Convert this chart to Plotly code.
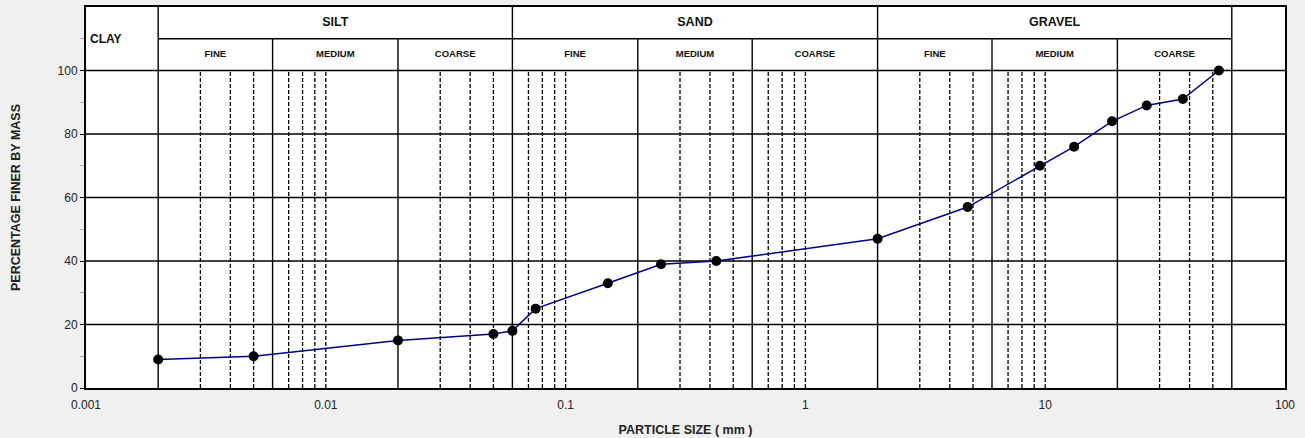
import numpy as np
import plotly.graph_objects as go

# ---- data ----
particle_size = [0.002, 0.005, 0.02, 0.05, 0.06, 0.075, 0.15, 0.25, 0.425, 2.0,
                 4.75, 9.5, 13.2, 19.0, 26.5, 37.5, 53.0]
percent_finer = [9, 10, 15, 17, 18, 25, 33, 39, 40, 47, 57, 70, 76, 84, 89, 91, 100]

main_bounds = [0.002, 0.06, 2, 60]
main_labels = ["SILT", "SAND", "GRAVEL"]
sub_bounds = [0.002, 0.006, 0.02, 0.06, 0.2, 0.6, 2, 6, 20, 60]
sub_labels = ["FINE", "MEDIUM", "COARSE"] * 3
dashed_sizes = [0.003, 0.004, 0.005, 0.007, 0.008, 0.009, 0.01, 0.03, 0.04, 0.05,
                0.07, 0.08, 0.09, 0.1, 0.3, 0.4, 0.5, 0.7, 0.8, 0.9, 1,
                3, 4, 5, 7, 8, 9, 10, 30, 40, 50]
grid_y = [20, 40, 60, 80, 100]
x_ticks = [0.001, 0.01, 0.1, 1, 10, 100]
x_ticktext = ["0.001", "0.01", "0.1", "1", "10", "100"]
y_ticks = [0, 20, 40, 60, 80, 100]
y_ticktext = ["0", "20", "40", "60", "80", "100"]
y_minor_ticks = [10, 30, 50, 70, 90, 110]

FONT = "Liberation Sans, Arial, sans-serif"
fig = go.Figure()


def vlines(xs, y0, y1):
    xx, yy = [], []
    for x in xs:
        xx += [x, x, None]
        yy += [y0, y1, None]
    return xx, yy


# dashed lines
xx, yy = vlines(dashed_sizes, 0, 100)
fig.add_trace(go.Scatter(x=xx, y=yy, mode="lines",
                         line=dict(color="black", width=1.3, dash="4px,2px"),
                         hoverinfo="skip"))
# horizontal grid lines
hx, hy = [], []
for g in grid_y:
    hx += [x_ticks[0], x_ticks[-1], None]
    hy += [g, g, None]
fig.add_trace(go.Scatter(x=hx, y=hy, mode="lines",
                         line=dict(color="black", width=1.4), hoverinfo="skip"))
# sub-boundary lines (to 110) and main boundary lines (to 120)
sub_only = [b for b in sub_bounds if b not in main_bounds]
xx, yy = vlines(sub_only, 0, 110)
fig.add_trace(go.Scatter(x=xx, y=yy, mode="lines",
                         line=dict(color="black", width=1.4), hoverinfo="skip"))
xx, yy = vlines(main_bounds, 0, 120)
fig.add_trace(go.Scatter(x=xx, y=yy, mode="lines",
                         line=dict(color="black", width=1.4), hoverinfo="skip"))
# header separator at 110
fig.add_trace(go.Scatter(x=[main_bounds[0], main_bounds[-1]], y=[110, 110], mode="lines",
                         line=dict(color="black", width=1.4), hoverinfo="skip"))

# header labels
main_x = [np.sqrt(main_bounds[i] * main_bounds[i + 1]) for i in range(len(main_labels))]
fig.add_trace(go.Scatter(x=main_x, y=[115] * len(main_x), mode="text", text=main_labels,
                         textfont=dict(family=FONT, size=12.5, color="#111"),
                         texttemplate="<b>%{text}</b>", hoverinfo="skip"))
sub_x = [np.sqrt(sub_bounds[i] * sub_bounds[i + 1]) for i in range(len(sub_labels))]
fig.add_trace(go.Scatter(x=sub_x, y=[105] * len(sub_x), mode="text", text=sub_labels,
                         textfont=dict(family=FONT, size=9.5, color="#111"),
                         texttemplate="<b>%{text}</b>", hoverinfo="skip"))

# grading curve
fig.add_trace(go.Scatter(x=particle_size, y=percent_finer, mode="lines+markers",
                         line=dict(color="#000080", width=1.5),
                         marker=dict(color="black", size=10)))

fig.add_annotation(text="<b>CLAY</b>", xref="paper", yref="y", x=0, y=110,
                   xanchor="left", yanchor="middle", xshift=2, showarrow=False,
                   font=dict(family=FONT, size=12, color="#111"))

fig.update_layout(
    width=1305, height=438,
    margin=dict(l=86, r=20, t=7, b=50, autoexpand=False),
    paper_bgcolor="#f0f0f0", plot_bgcolor="white",
    showlegend=False,
    font=dict(family=FONT, color="black"),
)
fig.update_xaxes(type="log", range=[-3, 2], tickvals=x_ticks, ticktext=x_ticktext,
                 automargin=False,
                 showgrid=False, zeroline=False, ticks="", ticklabelstandoff=5,
                 showline=True, mirror=True, linecolor="black", linewidth=2,
                 tickfont=dict(family=FONT, size=12, color="#222"),
                 title=dict(text="<b>PARTICLE SIZE ( mm )</b>", standoff=14,
                            font=dict(family=FONT, size=12.5, color="#222")))
fig.update_yaxes(range=[0, 120], tickvals=y_ticks, ticktext=y_ticktext,
                 automargin=False,
                 showgrid=False, zeroline=False, ticks="outside", ticklen=4,
                 tickcolor="black", tickwidth=1.4,
                 minor=dict(tickvals=y_minor_ticks, ticks="outside", ticklen=4,
                            tickcolor="#aaa", tickwidth=1, showgrid=False),
                 showline=True, mirror=True, linecolor="black", linewidth=2,
                 tickfont=dict(family=FONT, size=12, color="#222"),
                 title=dict(text="<b>PERCENTAGE FINER BY MASS</b>", standoff=34,
                            font=dict(family=FONT, size=12.5, color="#222")))

fig.write_html("out.html", config={"displayModeBar": False},
               post_script="document.body.style.margin='0';")
